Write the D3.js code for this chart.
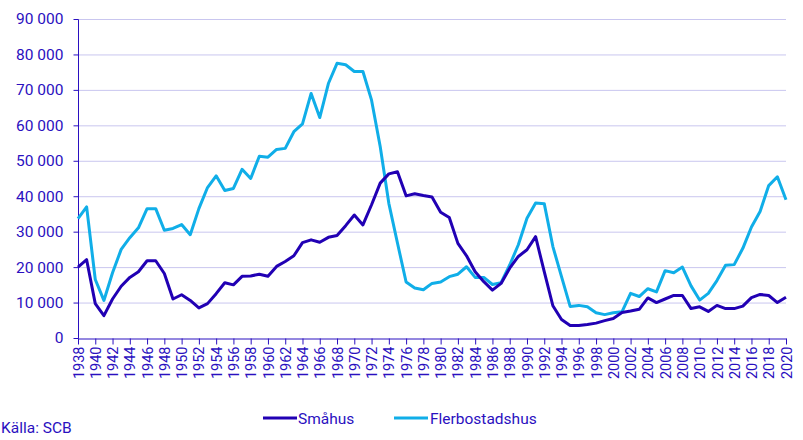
<!DOCTYPE html>
<html><head><meta charset="utf-8">
<script src="https://cdn.jsdelivr.net/npm/d3@7"></script>
<style>body{margin:0;background:#fff;} text{font-family:Roboto, "Liberation Sans", sans-serif;}</style>
</head><body><svg id="c" width="803" height="440"></svg>
<script>
const years = d3.range(1938, 2021);
const smahus = [20000,22100,9700,6300,11000,14600,17100,18700,21800,21800,18200,11000,12200,10600,8500,9700,12500,15600,15000,17400,17500,18000,17400,20200,21600,23200,26900,27700,27000,28400,28900,31700,34700,31900,37600,43700,46300,46900,40100,40700,40200,39800,35500,34000,26700,23200,18700,15900,13500,15400,19700,23000,24900,28600,18700,9100,5200,3500,3500,3800,4200,4900,5500,7200,7600,8100,11300,10000,11000,12000,12000,8300,8800,7500,9200,8300,8300,9000,11400,12300,12000,10000,11500];
const flerbostadshus = [33700,37000,16500,10600,18400,25000,28300,31100,36500,36500,30400,30900,32000,29150,36500,42450,45750,41600,42200,47600,45000,51300,51000,53200,53500,58200,60400,69000,62200,71800,77500,77100,75200,75200,67100,54000,38000,26800,15800,14100,13600,15400,15800,17300,18000,20100,17100,17100,15100,15600,20600,26300,33800,38100,37900,25800,17300,8900,9200,8800,7100,6600,7100,7400,12600,11700,13900,13000,19000,18400,20000,14700,10700,12600,16200,20500,20700,25300,31300,35700,43000,45500,39000];
const yTicks = [0,10000,20000,30000,40000,50000,60000,70000,80000,90000];
const xTickYears = d3.range(1938, 2021, 2);
const seriesNames = ["Småhus","Flerbostadshus"];
const colors = ["#2100b4","#10aee8"];
const textColor = "#2a10c0";

const svg = d3.select("#c");
const x = d3.scaleLinear().domain([1938,2020]).range([78,786]);
const y = d3.scaleLinear().domain([0,90000]).range([338,19]);
const fmt = v => d3.format(",")(v).replace(/,/g," ");

// gridlines
svg.append("g").selectAll("line").data(yTicks.filter(d=>d>0)).join("line")
  .attr("x1",78).attr("x2",786).attr("y1",d=>y(d)+0.5).attr("y2",d=>y(d)+0.5)
  .attr("stroke","#c9c6ef").attr("stroke-width",1);

// y axis
const ya = svg.append("g").attr("transform","translate(78.5,0)")
  .call(d3.axisLeft(y).tickValues(yTicks).tickFormat(fmt).tickSize(5).tickPadding(10));
ya.select(".domain").attr("stroke",textColor).attr("d","M0,19.5V338.5");
ya.selectAll(".tick line").attr("stroke",textColor);
ya.selectAll("text").attr("fill",textColor).style("font-size","15.5px");

// x axis
const xa = svg.append("g").attr("transform","translate(0,338.5)")
  .call(d3.axisBottom(x).tickValues(xTickYears).tickFormat(d3.format("d")).tickSize(6).tickPadding(4));
xa.select(".domain").attr("stroke",textColor).attr("d","M78,0.5H786.5");
xa.selectAll(".tick line").attr("stroke",textColor);
xa.selectAll("text").attr("fill",textColor).style("font-size","14.5px")
  .attr("transform","rotate(-90)").attr("text-anchor","end").attr("dx","-8").attr("dy","0.35em").attr("x",0).attr("y",0);

// lines
const data = [smahus, flerbostadshus];
const line = d3.line().x((d,i)=>x(years[i])).y(d=>y(d));
[1,0].forEach(k=>{
  svg.append("path").datum(data[k]).attr("d",line).attr("fill","none")
    .attr("stroke",colors[k]).attr("stroke-width",3).attr("stroke-linejoin","round");
});

// legend
const leg = [{x:263,tx:298},{x:394,tx:430}];
seriesNames.forEach((n,i)=>{
  svg.append("line").attr("x1",leg[i].x).attr("x2",leg[i].x+34).attr("y1",418).attr("y2",418)
    .attr("stroke",colors[i]).attr("stroke-width",3);
  svg.append("text").attr("x",leg[i].tx).attr("y",423.5).attr("fill",textColor).style("font-size","15.5px").text(n);
});
svg.append("text").attr("x",1).attr("y",433).attr("fill",textColor).style("font-size","15.5px").text("Källa: SCB");
</script></body></html>
